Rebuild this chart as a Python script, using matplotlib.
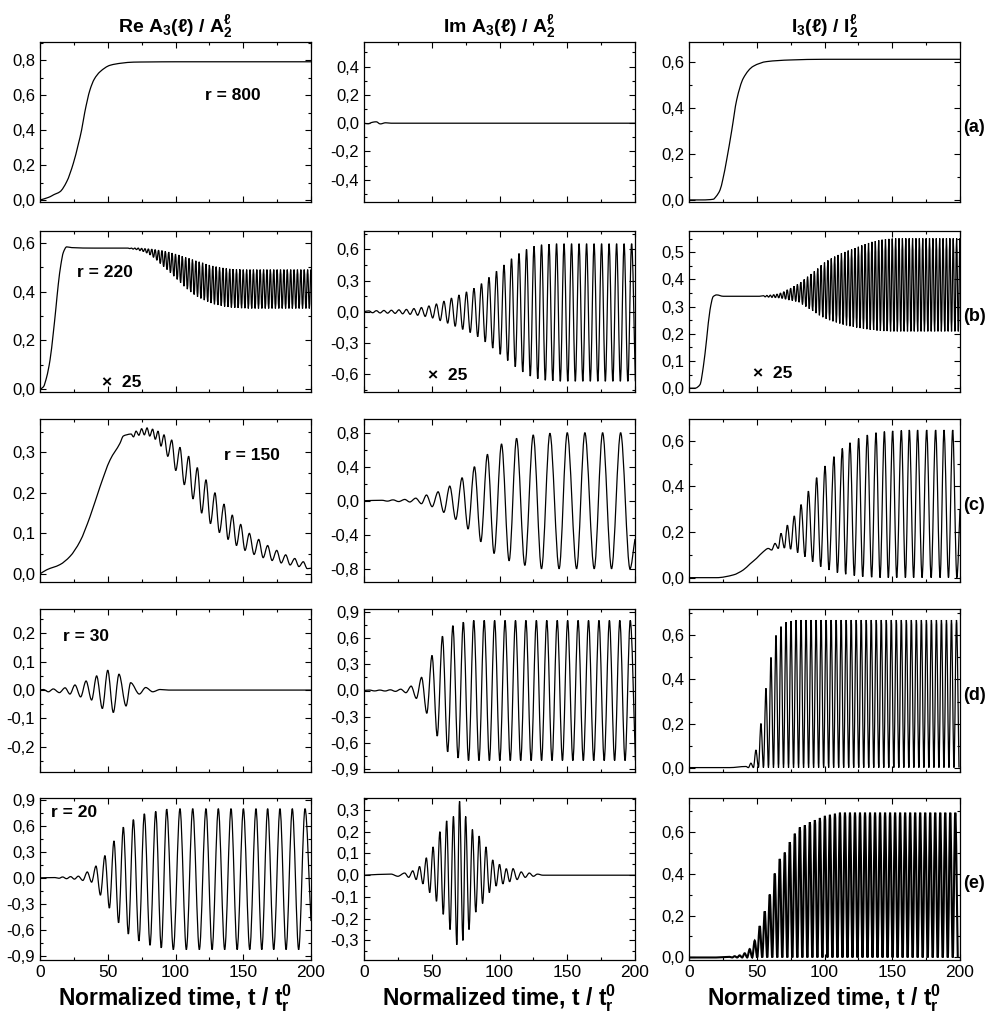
import numpy as np
import matplotlib.pyplot as plt
from matplotlib.path import Path
from matplotlib.patches import PathPatch
from matplotlib.ticker import MultipleLocator, FuncFormatter

plt.rcParams['font.family'] = ['Liberation Sans', 'DejaVu Sans']
plt.rcParams['mathtext.default'] = 'regular'

# ---------------- data ----------------
# (a) r = 800
a1_t = [0, 5, 7.4, 10, 14.8, 19.7, 24.6, 28.3, 30.7, 33, 36.9, 40, 44.3, 51.7, 60, 69, 80, 100, 200]
a1_v = [0.0, 0.012, 0.019, 0.03, 0.048, 0.105, 0.21, 0.32, 0.40, 0.50, 0.63, 0.69, 0.733, 0.77, 0.782, 0.788, 0.789, 0.79, 0.79]
a2_t = [0, 3, 6, 9, 12, 16, 20, 30, 200]
a2_v = [0, -0.004, 0.006, 0.01, -0.005, 0.003, 0, 0, 0]
a3_t = [0, 10, 17.9, 20, 22.9, 25, 27.8, 31.5, 35.2, 40.1, 47.5, 57.3, 74.5, 100, 200]
a3_v = [0, 0, 0.003, 0.015, 0.043, 0.09, 0.174, 0.30, 0.434, 0.528, 0.58, 0.60, 0.607, 0.61, 0.61]

# (b) r = 220
b1_rise_t = [0, 2.5, 4.9, 7.4, 9.8, 11.7, 13.5, 15.4, 17.2, 19.7, 23.4, 40, 60]
b1_rise_v = [0, 0.01, 0.05, 0.12, 0.23, 0.33, 0.43, 0.51, 0.56, 0.583, 0.58, 0.578, 0.578]
b1_t0, b1_dt = 65, 2.5
b1_up = [0.578, 0.578, 0.578, 0.578, 0.577, 0.576, 0.575, 0.574, 0.572, 0.570,
         0.568, 0.565, 0.562, 0.558, 0.554, 0.550, 0.545, 0.540, 0.536, 0.531,
         0.526, 0.522, 0.518, 0.513, 0.509, 0.505, 0.502, 0.499, 0.497, 0.495,
         0.493, 0.492, 0.491, 0.491, 0.490, 0.490, 0.490, 0.490, 0.490, 0.490,
         0.490, 0.490, 0.490, 0.490, 0.490, 0.490, 0.490, 0.490, 0.490, 0.490,
         0.490, 0.490, 0.490, 0.490, 0.490]
b1_lo = [0.576, 0.574, 0.572, 0.568, 0.564, 0.558, 0.550, 0.540, 0.528, 0.515,
         0.502, 0.490, 0.477, 0.463, 0.450, 0.436, 0.422, 0.410, 0.398, 0.388,
         0.379, 0.372, 0.365, 0.359, 0.353, 0.348, 0.345, 0.342, 0.339, 0.337,
         0.335, 0.334, 0.333, 0.332, 0.332, 0.331, 0.331, 0.331, 0.331, 0.331,
         0.331, 0.331, 0.331, 0.331, 0.331, 0.331, 0.331, 0.331, 0.331, 0.331,
         0.331, 0.331, 0.331, 0.331, 0.331]

b2_t0, b2_dt = 3.6, 5.54
b2_up = [0.008, 0.01, 0.012, 0.014, 0.018, 0.022, 0.03, 0.04, 0.055, 0.074,
         0.10, 0.13, 0.16, 0.19, 0.225, 0.27, 0.33, 0.39, 0.45, 0.51,
         0.56, 0.60, 0.63, 0.645, 0.65, 0.655, 0.655, 0.655, 0.655, 0.655,
         0.655, 0.655, 0.655, 0.655, 0.655, 0.655]
b2_lo = [-0.01, -0.012, -0.014, -0.016, -0.02, -0.025, -0.034, -0.045, -0.06, -0.085,
         -0.11, -0.14, -0.17, -0.20, -0.24, -0.29, -0.35, -0.41, -0.47, -0.53,
         -0.58, -0.62, -0.645, -0.66, -0.665, -0.67, -0.67, -0.67, -0.67, -0.67,
         -0.67, -0.67, -0.67, -0.67, -0.67, -0.67]

b3_rise_t = [0, 4.4, 8.1, 10.6, 13, 15.5, 17.9, 20.4, 25.3, 40, 52]
b3_rise_v = [0, 0, 0.013, 0.08, 0.18, 0.288, 0.337, 0.343, 0.338, 0.338, 0.338]
b3_t0, b3_dt = 55, 2.5
b3_up = [0.340, 0.341, 0.342, 0.344, 0.346, 0.350, 0.355, 0.362, 0.368, 0.375,
         0.382, 0.390, 0.400, 0.410, 0.420, 0.430, 0.440, 0.452, 0.462, 0.470,
         0.477, 0.484, 0.490, 0.496, 0.501, 0.506, 0.510, 0.515, 0.520, 0.525,
         0.530, 0.534, 0.538, 0.541, 0.544, 0.546, 0.548, 0.549, 0.550, 0.551,
         0.551, 0.551, 0.551, 0.551, 0.551, 0.551, 0.551, 0.551, 0.551, 0.551,
         0.551, 0.551, 0.551, 0.551, 0.551, 0.551, 0.551, 0.551, 0.551]
b3_lo = [0.336, 0.335, 0.334, 0.333, 0.332, 0.330, 0.327, 0.324, 0.322, 0.319,
         0.316, 0.308, 0.300, 0.292, 0.284, 0.276, 0.268, 0.261, 0.255, 0.250,
         0.246, 0.242, 0.238, 0.234, 0.231, 0.228, 0.226, 0.223, 0.221, 0.219,
         0.217, 0.215, 0.214, 0.212, 0.211, 0.210, 0.210, 0.209, 0.209, 0.209,
         0.209, 0.209, 0.209, 0.209, 0.209, 0.209, 0.209, 0.209, 0.209, 0.209,
         0.209, 0.209, 0.209, 0.209, 0.209, 0.209, 0.209, 0.209, 0.209]

# (c) r = 150
c1_rise_t = [0, 4.9, 14.8, 22.1, 29.5, 36.9, 44.3, 51.7, 59, 61.5, 64]
c1_rise_v = [0, 0.01, 0.023, 0.043, 0.08, 0.141, 0.215, 0.281, 0.322, 0.34, 0.343]
c1_pk_t = [67.2, 70.9, 75.0, 79.0, 83.1, 87.1, 91.5, 97.2, 103.3, 109.7, 116.1, 122.5,
           129.1, 135.8, 141.9, 148.1, 154.5, 161.4, 168.0, 174.7, 181.3, 188.0, 194.3]
c1_pk_v = [0.345, 0.352, 0.358, 0.36, 0.357, 0.352, 0.343, 0.33, 0.312, 0.29, 0.262, 0.232,
           0.2, 0.172, 0.145, 0.122, 0.1, 0.085, 0.07, 0.058, 0.047, 0.038, 0.03]
c1_tr_t = [69.0, 73.0, 77.0, 81.0, 85.1, 89.3, 94.3, 100.2, 106.5, 112.9, 119.3, 125.8,
           132.4, 138.8, 145.0, 151.3, 158.0, 164.7, 171.3, 178.0, 184.6, 191.1, 197.2, 200]
c1_tr_v = [0.338, 0.342, 0.343, 0.34, 0.332, 0.315, 0.29, 0.255, 0.22, 0.185, 0.15, 0.124,
           0.102, 0.085, 0.07, 0.058, 0.048, 0.04, 0.033, 0.027, 0.022, 0.018, 0.013, 0.014]

c2_pk_t = [0, 13.3, 21.4, 30.1, 38.2, 46.1, 54.7, 63.3, 72.4, 81.5, 91.1, 101.5, 112.6,
           124.9, 137.2, 150.0, 163.0, 176.1, 189.4]
c2_pk_v = [0, 0.005, 0.01, 0.015, 0.03, 0.067, 0.105, 0.172, 0.27, 0.40, 0.545, 0.667, 0.733,
           0.773, 0.793, 0.80, 0.80, 0.80, 0.80]
c2_tr_t = [17.3, 25.6, 33.8, 42.4, 50.3, 58.9, 67.7, 76.8, 86.2, 96.0, 107.1, 118.7,
           131.0, 144.0, 156.9, 169.9, 182.7, 196.3, 200]
c2_tr_v = [-0.005, -0.01, -0.015, -0.035, -0.07, -0.137, -0.22, -0.333, -0.482, -0.62, -0.706, -0.76,
           -0.80, -0.80, -0.80, -0.80, -0.80, -0.80, -0.45]

c3_rise_t = [0, 20.4, 32.7, 40.1, 45.0, 49.9, 54.9]
c3_rise_v = [0, 0, 0.012, 0.034, 0.06, 0.085, 0.114]
c3_pk_t = [58.5, 63.5, 67.9, 72.6, 77.7, 82.7, 88.1, 94.2, 100.4, 107.0, 113.2, 118.8, 125.2,
           131.6, 138.0, 144.2, 150.3, 156.7, 162.6, 168.7, 175.4, 182.0, 188.2, 194.6]
c3_pk_v = [0.128, 0.15, 0.194, 0.23, 0.27, 0.32, 0.379, 0.438, 0.489, 0.53, 0.566, 0.591, 0.61,
           0.625, 0.635, 0.64, 0.643, 0.645, 0.647, 0.647, 0.647, 0.647, 0.647, 0.647]
c3_tr_t = [61.0, 65.9, 70.4, 75.0, 80.2, 85.6, 91.3, 97.2, 103.3, 109.5, 115.6, 122.0, 128.2,
           134.8, 141.0, 147.1, 153.3, 159.7, 165.8, 172.0, 178.7, 185.3, 191.5, 197.7, 200]
c3_tr_v = [0.121, 0.128, 0.13, 0.125, 0.11, 0.092, 0.07, 0.048, 0.034, 0.022, 0.015, 0.009, 0.004,
           0.002, 0, 0, 0, 0, 0, 0, 0, 0, 0, 0, 0.3]

# (d) r = 30
d1_pk_t = [0, 2.5, 9.8, 18.5, 25.8, 34.0, 41.8, 50.0, 58.3, 66.9, 78.0, 88.6, 200]
d1_pk_v = [0, 0.002, 0.004, 0.008, 0.018, 0.032, 0.05, 0.07, 0.056, 0.026, 0.009, 0.002, 0]
d1_tr_t = [6.2, 14.3, 22.1, 30.0, 38.1, 46.0, 54.1, 63.5, 73.3, 83.2, 95]
d1_tr_v = [-0.006, -0.009, -0.014, -0.024, -0.035, -0.065, -0.079, -0.056, -0.014, -0.006, 0]

d2_t0, d2_dt = 4, 7.7
d2_up = [0.005, 0.005, 0.008, 0.015, 0.05, 0.15, 0.40, 0.62, 0.74, 0.78,
         0.80, 0.80, 0.80, 0.80, 0.80, 0.80, 0.80, 0.80, 0.80, 0.80,
         0.80, 0.80, 0.80, 0.80, 0.80, 0.80]
d2_lo = [-0.005, -0.006, -0.01, -0.025, -0.09, -0.26, -0.52, -0.70, -0.77, -0.80,
         -0.80, -0.80, -0.80, -0.80, -0.80, -0.80, -0.80, -0.80, -0.80, -0.80,
         -0.80, -0.80, -0.80, -0.80, -0.80, -0.80]

d3_t0, d3_dt = 42, 3.7
d3_up = [0.005, 0.02, 0.08, 0.20, 0.36, 0.50, 0.60, 0.64, 0.66, 0.665,
         0.67, 0.67, 0.67, 0.67, 0.67, 0.67, 0.67, 0.67, 0.67, 0.67,
         0.67, 0.67, 0.67, 0.67, 0.67, 0.67, 0.67, 0.67, 0.67, 0.67,
         0.67, 0.67, 0.67, 0.67, 0.67, 0.67, 0.67, 0.67, 0.67, 0.67,
         0.67, 0.67, 0.67]
d3_lo = [0.0] * 43

# (e) r = 20
e1_pk_t = [0, 11.1, 16.7, 22.6, 28.3, 34.9, 41.3, 47.9, 54.6, 61.5, 68.9, 77.0, 85.4, 93.5,
           103.3, 112.7, 122.5, 131.6, 141.0, 150.1, 159.4, 168.0, 177.1, 186.2, 195.6]
e1_pk_v = [0, 0.003, 0.01, 0.014, 0.019, 0.068, 0.136, 0.257, 0.427, 0.586, 0.673, 0.741, 0.768, 0.794,
           0.80, 0.80, 0.80, 0.80, 0.80, 0.80, 0.80, 0.80, 0.80, 0.80, 0.80]
e1_tr_t = [14.0, 19.6, 25.4, 31.6, 38.1, 44.6, 51.2, 58.0, 65.2, 73.0, 81.2, 89.5, 98.4,
           108.0, 117.6, 127.0, 136.3, 145.5, 154.8, 163.7, 172.5, 181.6, 190.9, 200]
e1_tr_v = [-0.005, -0.01, -0.015, -0.03, -0.05, -0.20, -0.35, -0.52, -0.65, -0.73, -0.78, -0.81, -0.83,
           -0.83, -0.83, -0.83, -0.83, -0.83, -0.83, -0.83, -0.83, -0.83, -0.83, -0.5]

e2_pk_t = [0, 20, 30, 36, 41, 46, 51, 56, 61, 66, 70.5, 75, 80, 85, 90, 95, 100, 105, 110, 116, 122, 128, 200]
e2_pk_v = [0, 0.005, 0.01, 0.02, 0.04, 0.08, 0.13, 0.2, 0.25, 0.27, 0.34, 0.27, 0.21, 0.18, 0.13, 0.07, 0.05, 0.03, 0.03, 0.015, 0.01, 0.005, 0]
e2_tr_t = [25, 33, 38.5, 43.5, 48.5, 53.5, 58.5, 63.5, 68.5, 73, 77.5, 82.5, 87.5, 92.5, 97.5, 102.5, 107.5, 113, 119, 125, 132]
e2_tr_v = [-0.005, -0.01, -0.02, -0.04, -0.08, -0.12, -0.18, -0.25, -0.32, -0.3, -0.25, -0.17, -0.13, -0.08, -0.05, -0.04, -0.03, -0.02, -0.01, -0.005, 0]

e3_t0, e3_dt = 30, 3.7
e3_up = [0.003, 0.006, 0.01, 0.02, 0.04, 0.08, 0.15, 0.22, 0.30, 0.40,
         0.47, 0.50, 0.55, 0.59, 0.62, 0.63, 0.645, 0.655, 0.665, 0.675,
         0.68, 0.685, 0.69, 0.69, 0.69, 0.69, 0.69, 0.69, 0.69, 0.69,
         0.69, 0.69, 0.69, 0.69, 0.69, 0.69, 0.69, 0.69, 0.69, 0.69,
         0.69, 0.69, 0.69, 0.69, 0.69, 0.69]
e3_lo = [0.0] * 46

row_tags = ['(a)', '(b)', '(c)', '(d)', '(e)']
col_titles = [r'Re A$_3$(ℓ) / A$_2^{ℓ}$', r'Im A$_3$(ℓ) / A$_2^{ℓ}$', r'I$_3$(ℓ) / I$_2^{ℓ}$']


def osc(t0, dt, up, lo):
    # peaks and troughs, alternating, half a period apart
    n = len(up)
    tp = t0 + dt * np.arange(n)
    tt = np.empty(2 * n)
    vv = np.empty(2 * n)
    tt[0::2], tt[1::2] = tp, tp + dt / 2
    vv[0::2], vv[1::2] = up, lo
    return tt, vv


def join(*parts):
    t = np.concatenate([np.asarray(p[0], float) for p in parts])
    v = np.concatenate([np.asarray(p[1], float) for p in parts])
    o = np.argsort(t, kind='stable')
    return t[o], v[o]


def smooth_path(t, v):
    # monotone cubic (PCHIP-style) bezier through the read points:
    # flat tangent at every peak / trough, so oscillations look round
    t = np.asarray(t, float)
    v = np.asarray(v, float)
    h = np.diff(t)
    d = np.diff(v) / h
    m = np.zeros_like(v)
    for k in range(1, len(v) - 1):
        if d[k - 1] * d[k] > 0:
            w1 = 2 * h[k] + h[k - 1]
            w2 = h[k] + 2 * h[k - 1]
            m[k] = (w1 + w2) / (w1 / d[k - 1] + w2 / d[k])
    m[0], m[-1] = d[0], d[-1]
    verts = [(t[0], v[0])]
    codes = [Path.MOVETO]
    for k in range(len(t) - 1):
        dx = h[k] / 3
        verts += [(t[k] + dx, v[k] + m[k] * dx),
                  (t[k + 1] - dx, v[k + 1] - m[k + 1] * dx),
                  (t[k + 1], v[k + 1])]
        codes += [Path.CURVE4] * 3
    return Path(verts, codes)


curves = [
    [(a1_t, a1_v), (a2_t, a2_v), (a3_t, a3_v)],
    [join((b1_rise_t, b1_rise_v), osc(b1_t0, b1_dt, b1_up, b1_lo)),
     join(([0], [0]), osc(b2_t0, b2_dt, b2_up, b2_lo)),
     join((b3_rise_t, b3_rise_v), osc(b3_t0, b3_dt, b3_up, b3_lo))],
    [join((c1_rise_t, c1_rise_v), (c1_pk_t, c1_pk_v), (c1_tr_t, c1_tr_v)),
     join((c2_pk_t, c2_pk_v), (c2_tr_t, c2_tr_v)),
     join((c3_rise_t, c3_rise_v), (c3_pk_t, c3_pk_v), (c3_tr_t, c3_tr_v))],
    [join((d1_pk_t, d1_pk_v), (d1_tr_t, d1_tr_v)),
     join(([0], [0]), osc(d2_t0, d2_dt, d2_up, d2_lo)),
     join(([0, 30], [0, 0]), osc(d3_t0, d3_dt, d3_up, d3_lo))],
    [join((e1_pk_t, e1_pk_v), (e1_tr_t, e1_tr_v)),
     join((e2_pk_t, e2_pk_v), (e2_tr_t, e2_tr_v)),
     join(([0, 20], [0, 0]), osc(e3_t0, e3_dt, e3_up, e3_lo))],
]

# y range, major and minor step of every panel
yspec = [
    [((-0.011, 0.903), 0.2, 0.1), ((-0.557, 0.574), 0.2, 0.1), ((-0.009, 0.685), 0.2, 0.1)],
    [((-0.011, 0.648), 0.2, 0.1), ((-0.773, 0.777), 0.3, 0.15), ((-0.014, 0.578), 0.1, 0.05)],
    [((-0.020, 0.382), 0.1, 0.05), ((-0.956, 0.961), 0.4, 0.2), ((-0.019, 0.695), 0.2, 0.1)],
    [((-0.289, 0.286), 0.1, 0.05), ((-0.93, 0.93), 0.3, 0.15), ((-0.02, 0.72), 0.2, 0.1)],
    [((-0.950, 0.923), 0.3, 0.15), ((-0.39, 0.355), 0.1, 0.05), ((-0.012, 0.76), 0.2, 0.1)],
]

notes = {
    (0, 0): [(142, 0.60, 'r = 800')],
    (1, 0): [(48, 0.48, 'r = 220'), (60.6, 0.029, '×  25')],
    (1, 1): [(61.5, -0.61, '×  25')],
    (1, 2): [(61.6, 0.055, '×  25')],
    (2, 0): [(156.5, 0.292, 'r = 150')],
    (3, 0): [(33.9, 0.188, 'r = 30')],
    (4, 0): [(25.3, 0.756, 'r = 20')],
}


def comma(v, pos):
    s = f'{v:.1f}'
    if s == '-0.0':
        s = '0.0'
    return s.replace('.', ',')


W, H = 988, 1017
col_left = [40, 364, 689]
col_w = 271
row_top = [42, 231, 419, 609, 798]
row_bot = [202, 392, 582, 772, 960]

fig = plt.figure(figsize=(W / 100, H / 100), dpi=100)

for i in range(5):
    for j in range(3):
        ax = fig.add_axes([col_left[j] / W, 1 - row_bot[i] / H,
                           col_w / W, (row_bot[i] - row_top[i]) / H])
        t, v = curves[i][j]
        lw = 1.5 if (i, j) == (4, 2) else 0.9
        ax.add_patch(PathPatch(smooth_path(t, v), facecolor='none',
                               edgecolor='black', lw=lw))
        (y0, y1), maj, mnr = yspec[i][j]
        ax.set_xlim(0, 200)
        ax.set_ylim(y0, y1)
        ax.xaxis.set_major_locator(MultipleLocator(50))
        ax.xaxis.set_minor_locator(MultipleLocator(25))
        ax.yaxis.set_major_locator(MultipleLocator(maj))
        ax.yaxis.set_minor_locator(MultipleLocator(mnr))
        ax.yaxis.set_major_formatter(FuncFormatter(comma))
        ax.tick_params(which='both', direction='in', top=True, right=True,
                       width=0.8, colors='black')
        ax.tick_params(axis='y', labelsize=12)
        ax.tick_params(axis='x', labelsize=12.5)
        ax.tick_params(which='major', length=4)
        ax.tick_params(which='minor', length=2.5)
        for sp in ax.spines.values():
            sp.set_linewidth(0.9)
        if i < 4:
            ax.tick_params(labelbottom=False)
        else:
            ax.set_xlabel(r'Normalized time, t / t$_r^0$', fontsize=16.5,
                          fontweight='bold', labelpad=2)
        if i == 0:
            ax.set_title(col_titles[j], fontsize=14, fontweight='bold', pad=7)
        for (x, y, s) in notes.get((i, j), []):
            ax.text(x, y, s, fontsize=12.5, fontweight='bold',
                    ha='center', va='center')
    yc = 1 - ((row_top[i] + row_bot[i]) / 2 + 5) / H
    fig.text(963 / W, yc, row_tags[i], fontsize=13, fontweight='bold',
             ha='left', va='center')

fig.savefig('out.png', dpi=100)
